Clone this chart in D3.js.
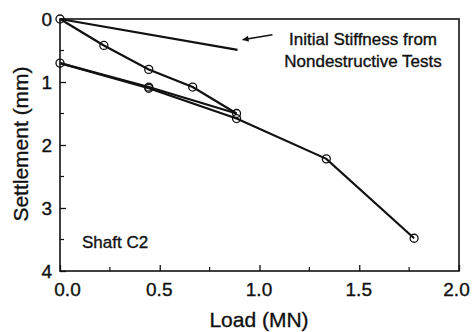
<!DOCTYPE html>
<html><head><meta charset="utf-8">
<script src="https://cdn.jsdelivr.net/npm/d3@7"></script>
<style>body{margin:0;background:#fff}svg{display:block}text{font-family:"Liberation Sans",Arial,sans-serif;fill:#111;stroke:#111;stroke-width:0.35px}</style>
</head><body>
<script>
// Load (MN) and settlement (mm)
const loading = [[0,0],[0.22,0.42],[0.445,0.80],[0.665,1.08],[0.885,1.50]];
const unloading = [[0.885,1.50],[0.445,1.08],[0,0.70]];
const reloading = [[0,0.70],[0.445,1.10],[0.885,1.58],[1.335,2.22],[1.775,3.48]];
const stiffness = [[0,0],[0.89,0.49]];
const arrow = [[1.065,0.25],[0.915,0.33]];
const xTicks = [0,0.5,1.0,1.5,2.0];
const yTicks = [0,1,2,3,4];
const xMinor = [0.25,0.75,1.25,1.75];
const yMinor = [0.5,1.5,2.5,3.5];

const W=475,H=332, L=60,R=459,T=19,B=271;
const svg=d3.select("body").append("svg").attr("width",W).attr("height",H);
const x=d3.scaleLinear().domain([0,2]).range([L,R]);
const y=d3.scaleLinear().domain([0,4]).range([T,B]);
const ink="#111";

svg.append("rect").attr("x",L).attr("y",T).attr("width",R-L).attr("height",B-T)
  .attr("fill","none").attr("stroke",ink).attr("stroke-width",1.6);

const xa=svg.append("g").attr("transform",`translate(0,${B})`)
  .call(d3.axisBottom(x).tickValues(xTicks).tickSize(-6).tickPadding(12).tickFormat(d3.format(".1f")));
const ya=svg.append("g").attr("transform",`translate(${L},0)`)
  .call(d3.axisLeft(y).tickValues(yTicks).tickSize(-6).tickPadding(8).tickFormat(d3.format("d")));
[xa,ya].forEach(g=>{g.select(".domain").remove();g.selectAll("line").attr("stroke",ink).attr("stroke-width",1.3);
  g.selectAll("text").attr("font-size",19).style("fill",ink).attr("font-family","'Liberation Sans',Arial,sans-serif");});
xa.selectAll("text").attr("dx",(d,i)=> i===0?7:(i===xTicks.length-1?-3:-1));
svg.append("g").selectAll("line").data(xMinor).join("line")
  .attr("x1",d=>x(d)).attr("x2",d=>x(d)).attr("y1",B).attr("y2",B-4).attr("stroke",ink).attr("stroke-width",1.2);
svg.append("g").selectAll("line").data(yMinor).join("line")
  .attr("x1",L).attr("x2",L+4).attr("y1",d=>y(d)).attr("y2",d=>y(d)).attr("stroke",ink).attr("stroke-width",1.2);

const line=d3.line().x(d=>x(d[0])).y(d=>y(d[1]));
[stiffness,loading,unloading,reloading].forEach(s=>{
  svg.append("path").datum(s).attr("d",line).attr("fill","none").attr("stroke",ink).attr("stroke-width",2.2);
});
const pts=[...loading,...unloading.slice(1,2),...reloading];
svg.append("g").selectAll("circle").data(pts).join("circle")
  .attr("cx",d=>x(d[0])).attr("cy",d=>y(d[1])).attr("r",4)
  .attr("fill","none").attr("stroke",ink).attr("stroke-width",1.3);

// arrow
svg.append("defs").append("marker").attr("id","ah").attr("viewBox","0 0 10 10")
  .attr("refX",10).attr("refY",5).attr("markerWidth",14).attr("markerHeight",6).attr("markerUnits","userSpaceOnUse")
  .attr("orient","auto").append("path").attr("d","M0,0L10,5L0,10Z").attr("fill",ink);
svg.append("path").datum(arrow).attr("d",line).attr("stroke",ink).attr("stroke-width",1.4).attr("marker-end","url(#ah)");

svg.append("text").attr("x",363).attr("y",45).attr("text-anchor","middle").attr("font-size",17).text("Initial Stiffness from");
svg.append("text").attr("x",363).attr("y",67).attr("text-anchor","middle").attr("font-size",17).text("Nondestructive Tests");
svg.append("text").attr("x",82).attr("y",248).attr("font-size",17).text("Shaft C2");

svg.append("text").attr("x",259).attr("y",327).attr("text-anchor","middle").attr("font-size",21).text("Load (MN)");
svg.append("text").attr("transform",`translate(28,144) rotate(-90)`).attr("text-anchor","middle").attr("font-size",21).text("Settlement (mm)");
</script>
</body></html>
